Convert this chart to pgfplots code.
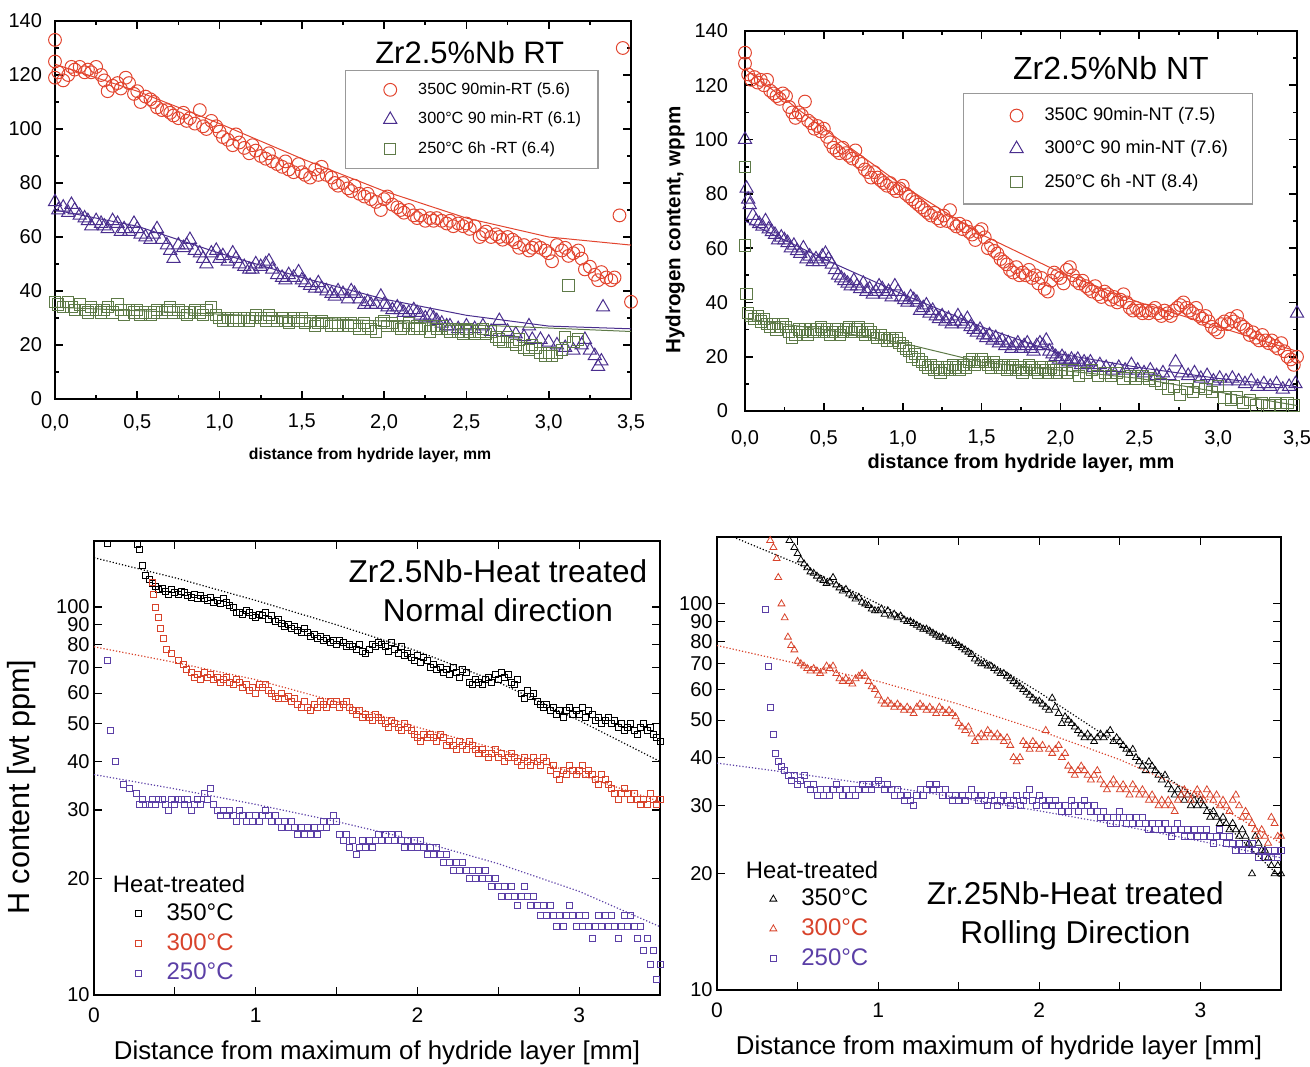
\documentclass[border=0pt]{standalone}
\usepackage{fontspec}
\setmainfont{Liberation Sans}
\usepackage{pgfplots}
\pgfplotsset{compat=1.18}
\definecolor{cRed}{HTML}{E2452F}
\definecolor{cPur}{HTML}{4A2E8E}
\definecolor{cGrn}{HTML}{5E7A48}
\definecolor{bRed}{HTML}{D8432B}
\definecolor{bPur}{HTML}{5B3FA6}

\pgfplotsset{
  every axis/.append style={/pgf/number format/assume math mode=true},
  topax/.style={
    scale only axis, anchor=south west, clip mode=individual,
    xmin=0, xmax=3.5, ymin=0, ymax=140,
    xtick={0,0.5,1,1.5,2,2.5,3,3.5}, minor x tick num=1,
    ytick={0,20,...,140}, minor y tick num=1,
    tick align=inside, major tick length=4pt, minor tick length=2.2pt,
    axis line style={line width=0.9pt},
    every tick/.style={black, line width=0.8pt},
    xticklabel style={yshift=-4pt, /pgf/number format/fixed, /pgf/number format/fixed zerofill,
      /pgf/number format/precision=1, /pgf/number format/use comma},
    yticklabel style={xshift=-3pt},
    tick label style={font=\fontsize{10}{12}\selectfont},
    legend cell align=left,
    legend image code/.code={\path[draw=none, fill=none] (0pt,0pt) rectangle (28pt,0.1pt);
      \draw[##1] plot coordinates {(16pt,0pt)};},
    legend style={draw=gray!80, line width=0.6pt, fill=white, anchor=north west},
  },
  botax/.style={
    scale only axis, anchor=south west, clip mode=individual,
    xmin=0, xmax=3.5, ymin=10,
    xtick={0,1,2,3}, minor xtick={0.5,1.5,2.5,3.5},
    ytick={10,20,30,40,50,60,70,80,90,100},
    yticklabels={10,20,30,40,50,60,70,80,90,100},
    tick align=inside, major tick length=4pt, minor tick length=4pt,
    axis line style={line width=0.7pt},
    every tick/.style={black, line width=0.6pt},
    tick label style={font=\fontsize{10.5}{11}\selectfont},
    yticklabel style={font=\fontsize{10}{10}\selectfont, inner ysep=0pt, inner xsep=2pt},
    xticklabel style={yshift=-3pt},
    x label style={at={(axis description cs:0.5,0)}, anchor=center, yshift=-29pt,
      font=\fontsize{12.9}{14}\selectfont},
    legend cell align=left,
    legend image code/.code={\path[draw=none, fill=none] (0pt,0pt) rectangle (16pt,0.1pt);
      \draw[##1] plot coordinates {(4pt,0pt)};},
    legend style={draw=none, fill=none, anchor=north west, row sep=1pt, inner xsep=0pt,
      font=\fontsize{12}{14.5}\selectfont},
  },
  rmk/.style={only marks, mark=o, mark size=3.2pt, cRed, mark options={line width=0.5pt}},
  pmk/.style={only marks, mark=triangle, mark size=3.8pt, cPur, mark options={line width=0.5pt}},
  gmk/.style={only marks, mark=square, mark size=2.8pt, cGrn, mark options={line width=0.5pt}},
}

\begin{document}
\begin{tikzpicture}
\useasboundingbox (0,0) rectangle (655pt,533pt);

% ---------------- top left: RT ----------------
\begin{axis}[topax, at={(27.5pt,333.5pt)}, width=288pt, height=189pt,
  xlabel={distance from hydride layer, mm},
  x label style={at={(axis description cs:0.547,0)}, anchor=center, yshift=-28pt,
    font=\bfseries\fontsize{7.9}{9}\selectfont},
  legend style={at={(axis cs:1.76,121.9)}, font=\fontsize{8.1}{10}\selectfont,
    inner xsep=6.5pt, inner ysep=4pt, row sep=3.5pt},
]
\addplot[rmk] coordinates {
(0.00,133) (0.00,125) (0.00,119) (0.02,121) (0.05,118) (0.08,120) (0.10,123) (0.12,122)
(0.15,123) (0.18,121) (0.20,122) (0.22,121) (0.25,123) (0.28,120) (0.30,118) (0.32,114)
(0.35,116) (0.38,117) (0.40,115) (0.43,119) (0.45,117) (0.48,113) (0.50,114) (0.52,110)
(0.55,112) (0.58,111) (0.60,110) (0.62,108) (0.65,107) (0.68,107) (0.70,106) (0.72,105)
(0.75,104) (0.78,106) (0.80,103) (0.82,104) (0.85,102) (0.88,107) (0.90,101) (0.92,100)
(0.95,103) (0.98,101) (1.00,99) (1.02,97) (1.05,96) (1.08,94) (1.10,98) (1.12,95)
(1.15,93) (1.18,91) (1.20,94) (1.22,92) (1.25,90) (1.28,89) (1.30,91) (1.32,88)
(1.35,87) (1.38,86) (1.40,88) (1.42,85) (1.45,84) (1.48,87) (1.50,84) (1.52,83)
(1.55,82) (1.58,85) (1.60,83) (1.62,86) (1.65,83) (1.68,82) (1.70,80) (1.72,79)
(1.75,80) (1.78,78) (1.80,77) (1.82,79) (1.85,76) (1.88,75) (1.90,76) (1.92,74)
(1.95,73) (1.98,70) (2.00,74) (2.02,75) (2.05,72) (2.08,71) (2.10,70) (2.12,69)
(2.15,70) (2.18,68) (2.20,67) (2.22,68) (2.25,66) (2.28,67) (2.30,66) (2.32,67)
(2.35,66) (2.38,65) (2.40,66) (2.42,64) (2.45,65) (2.48,64) (2.50,65) (2.52,63)
(2.55,64) (2.58,60) (2.60,61) (2.62,62) (2.65,60) (2.68,61) (2.70,60) (2.72,59)
(2.75,60) (2.78,59) (2.80,58) (2.82,56) (2.85,57) (2.88,55) (2.90,56) (2.92,57)
(2.95,56) (2.98,55) (3.00,54) (3.02,51) (3.05,57) (3.08,55) (3.10,56) (3.12,53)
(3.15,54) (3.18,55) (3.20,52) (3.22,48) (3.25,49) (3.28,46) (3.30,44) (3.32,47)
(3.35,45) (3.38,44) (3.40,45) (3.43,68) (3.45,130) (3.50,36)};
\addlegendentry{350C 90min-RT (5.6)}
\addplot[pmk] coordinates {
(0.00,73) (0.02,70) (0.05,71) (0.08,69) (0.10,72) (0.12,70) (0.15,68) (0.18,67)
(0.20,66) (0.22,64) (0.25,66) (0.28,65) (0.30,64) (0.32,63) (0.35,66) (0.38,65)
(0.40,62) (0.42,63) (0.45,62) (0.48,65) (0.50,63) (0.52,61) (0.55,60) (0.58,59)
(0.60,61) (0.62,63) (0.65,59) (0.68,57) (0.70,55) (0.72,52) (0.75,57) (0.78,56)
(0.80,57) (0.82,59) (0.85,55) (0.88,54) (0.90,52) (0.92,50) (0.95,54) (0.98,55)
(1.00,52) (1.02,53) (1.05,51) (1.08,54) (1.10,52) (1.12,50) (1.15,49) (1.18,48)
(1.20,48) (1.22,50) (1.25,49) (1.28,50) (1.30,51) (1.32,48) (1.35,46) (1.38,45)
(1.40,44) (1.42,46) (1.45,45) (1.48,47) (1.50,44) (1.52,43) (1.55,42) (1.58,41)
(1.60,43) (1.62,41) (1.65,40) (1.68,39) (1.70,38) (1.72,40) (1.75,39) (1.78,37)
(1.80,40) (1.82,39) (1.85,37) (1.88,35) (1.90,36) (1.92,35) (1.95,35) (1.98,38)
(2.00,35) (2.02,34) (2.05,33) (2.08,34) (2.10,33) (2.12,32) (2.15,32) (2.18,33)
(2.20,32) (2.22,31) (2.25,30) (2.28,31) (2.30,30) (2.32,29) (2.35,28) (2.38,27)
(2.40,27) (2.45,26) (2.50,27) (2.55,26) (2.60,27) (2.65,25) (2.70,29) (2.75,25)
(2.80,24) (2.85,23) (2.88,27) (2.90,22) (2.95,22) (3.00,21) (3.05,20) (3.10,19)
(3.15,18) (3.20,20) (3.22,22) (3.25,18) (3.28,16) (3.30,12) (3.32,14) (3.33,34)};
\addlegendentry{300°C 90 min-RT (6.1)}
\addplot[gmk] coordinates {
(0.00,36) (0.02,35) (0.05,34) (0.08,36) (0.10,34) (0.12,33) (0.15,35) (0.18,33)
(0.20,32) (0.22,34) (0.25,33) (0.28,32) (0.30,33) (0.32,34) (0.35,32) (0.38,35)
(0.40,33) (0.42,31) (0.45,33) (0.48,32) (0.50,33) (0.52,31) (0.55,32) (0.58,31)
(0.60,32) (0.62,33) (0.65,32) (0.68,33) (0.70,34) (0.72,32) (0.75,33) (0.78,32)
(0.80,31) (0.82,32) (0.85,33) (0.88,32) (0.90,31) (0.92,33) (0.95,34) (0.98,31)
(1.00,30) (1.02,29) (1.05,30) (1.08,29) (1.10,30) (1.12,29) (1.15,30) (1.18,29)
(1.20,30) (1.22,31) (1.25,30) (1.28,29) (1.30,31) (1.32,30) (1.35,29) (1.38,30)
(1.40,29) (1.42,28) (1.45,30) (1.48,29) (1.50,30) (1.52,28) (1.55,29) (1.58,27)
(1.60,28) (1.62,29) (1.65,28) (1.68,27) (1.70,28) (1.72,27) (1.75,28) (1.78,27)
(1.80,28) (1.82,27) (1.85,26) (1.88,28) (1.90,27) (1.92,26) (1.95,25) (1.98,28)
(2.00,29) (2.02,27) (2.05,28) (2.08,27) (2.10,26) (2.12,27) (2.15,28) (2.18,26)
(2.20,27) (2.22,26) (2.25,27) (2.28,25) (2.30,27) (2.32,26) (2.35,27) (2.38,26)
(2.40,25) (2.42,26) (2.45,25) (2.48,24) (2.50,26) (2.52,25) (2.55,24) (2.58,25)
(2.60,26) (2.62,24) (2.65,25) (2.68,23) (2.70,22) (2.72,21) (2.75,23) (2.78,21)
(2.80,20) (2.82,22) (2.85,19) (2.88,18) (2.90,20) (2.92,19) (2.95,17) (2.98,16)
(3.00,17) (3.02,16) (3.05,17) (3.08,18) (3.10,23) (3.12,42) (3.15,21) (3.18,22)};
\addlegendentry{250°C 6h -RT (6.4)}
\addplot[cRed, line width=0.5pt, forget plot] coordinates {
(0,124) (0.5,114) (1,102) (1.5,89) (2,77) (2.5,67) (3,60) (3.5,57)};
\addplot[cPur, line width=0.5pt, forget plot] coordinates {
(0,70) (0.5,64) (1,54) (1.5,45) (2,37) (2.5,31) (3,27) (3.5,26)};
\addplot[cGrn, line width=0.5pt, forget plot] coordinates {(0,34) (3.5,25)};
\node[font=\fontsize{15.5}{17}\selectfont] at (axis cs:2.52,128.5) {Zr2.5\%Nb RT};
\end{axis}

% ---------------- top right: NT ----------------
\begin{axis}[topax, at={(372.5pt,327.5pt)}, width=276pt, height=190pt,
  xlabel={distance from hydride layer, mm},
  ylabel={Hydrogen content, wppm},
  xticklabel style={yshift=-2pt},
  x label style={at={(axis description cs:0.5,0)}, anchor=center, yshift=-26pt,
    font=\bfseries\fontsize{10}{11}\selectfont},
  y label style={at={(axis description cs:0,0.476)}, anchor=center, yshift=35pt,
    font=\bfseries\fontsize{10.3}{11}\selectfont},
  yticklabel style={xshift=-2pt},
  legend style={at={(axis cs:1.382,117.2)}, font=\fontsize{9.1}{11}\selectfont,
    inner xsep=10.5pt, inner ysep=5pt, row sep=4.5pt},
]
\addplot[rmk] coordinates {
(0.00,132) (0.00,128) (0.02,124) (0.04,122) (0.06,123) (0.08,121) (0.10,122) (0.12,120)
(0.14,122) (0.16,118) (0.18,117) (0.20,116) (0.22,115) (0.24,117) (0.26,116) (0.28,112)
(0.30,110) (0.32,108) (0.34,110) (0.36,109) (0.38,114) (0.40,107) (0.42,106) (0.44,104)
(0.46,105) (0.48,103) (0.50,104) (0.52,101) (0.54,99) (0.56,97) (0.58,96) (0.60,95)
(0.62,97) (0.64,95) (0.66,94) (0.68,93) (0.70,96) (0.72,92) (0.74,91) (0.76,89)
(0.78,88) (0.80,86) (0.82,88) (0.84,86) (0.86,85) (0.88,84) (0.90,83) (0.92,84)
(0.94,82) (0.96,81) (0.98,82) (1.00,83) (1.02,80) (1.04,79) (1.06,78) (1.08,77)
(1.10,76) (1.12,75) (1.14,74) (1.16,73) (1.18,72) (1.20,73) (1.22,71) (1.24,70)
(1.26,72) (1.28,70) (1.30,74) (1.32,69) (1.34,68) (1.36,69) (1.38,67) (1.40,68)
(1.42,66) (1.44,65) (1.46,63) (1.48,66) (1.50,67) (1.52,64) (1.54,60) (1.56,61)
(1.58,59) (1.60,58) (1.62,56) (1.64,55) (1.66,54) (1.68,52) (1.70,51) (1.72,53)
(1.74,50) (1.76,51) (1.78,50) (1.80,52) (1.82,49) (1.84,50) (1.86,47) (1.88,49)
(1.90,45) (1.92,44) (1.94,48) (1.96,51) (1.98,50) (2.00,49) (2.02,47) (2.04,52)
(2.06,53) (2.08,50) (2.10,48) (2.12,47) (2.14,48) (2.16,46) (2.18,45) (2.20,44)
(2.22,46) (2.24,43) (2.26,42) (2.28,44) (2.30,43) (2.32,41) (2.34,42) (2.36,40)
(2.38,41) (2.40,43) (2.42,40) (2.44,38) (2.46,37) (2.48,38) (2.50,37) (2.52,36)
(2.54,37) (2.56,36) (2.58,37) (2.60,38) (2.62,36) (2.64,35) (2.66,37) (2.68,36)
(2.70,35) (2.72,37) (2.74,38) (2.76,39) (2.78,40) (2.80,38) (2.82,37) (2.84,36)
(2.86,38) (2.88,35) (2.90,34) (2.92,35) (2.94,33) (2.96,31) (2.98,30) (3.00,29)
(3.02,32) (3.04,33) (3.06,32) (3.08,34) (3.10,33) (3.12,35) (3.14,32) (3.16,31)
(3.18,30) (3.20,28) (3.22,29) (3.24,27) (3.26,26) (3.28,28) (3.30,26) (3.32,25)
(3.34,26) (3.36,24) (3.38,23) (3.40,25) (3.42,22) (3.44,20) (3.46,19) (3.48,17) (3.50,20)};
\addlegendentry{350C 90min-NT (7.5)}
\addplot[pmk] coordinates {
(0.00,100) (0.01,82) (0.02,78) (0.03,76) (0.05,72) (0.07,70) (0.09,69) (0.11,68)
(0.13,70) (0.15,67) (0.17,66) (0.19,65) (0.21,63) (0.23,64) (0.25,63) (0.27,62)
(0.29,60) (0.31,61) (0.33,59) (0.35,58) (0.37,60) (0.39,56) (0.41,57) (0.43,55)
(0.45,56) (0.47,55) (0.49,57) (0.51,58) (0.53,56) (0.55,54) (0.57,52) (0.59,50)
(0.61,49) (0.63,48) (0.65,47) (0.67,46) (0.69,48) (0.71,46) (0.73,45) (0.75,47)
(0.77,44) (0.79,45) (0.81,43) (0.83,44) (0.85,46) (0.87,45) (0.89,43) (0.91,44)
(0.93,42) (0.95,46) (0.97,44) (0.99,42) (1.01,41) (1.03,40) (1.05,42) (1.07,41)
(1.09,40) (1.11,37) (1.13,38) (1.15,39) (1.17,36) (1.19,37) (1.21,35) (1.23,34)
(1.25,35) (1.27,33) (1.29,34) (1.31,32) (1.33,33) (1.35,35) (1.37,33) (1.39,32)
(1.41,34) (1.43,31) (1.45,30) (1.47,29) (1.49,30) (1.51,28) (1.53,27) (1.55,28)
(1.57,26) (1.59,27) (1.61,25) (1.63,26) (1.65,24) (1.67,25) (1.69,23) (1.71,24)
(1.73,25) (1.75,23) (1.77,24) (1.79,25) (1.81,23) (1.83,22) (1.85,24) (1.87,25)
(1.89,24) (1.91,26) (1.93,22) (1.95,21) (1.97,20) (1.99,19) (2.01,20) (2.03,19)
(2.05,18) (2.07,19) (2.09,18) (2.11,19) (2.13,17) (2.15,18) (2.17,17) (2.19,18)
(2.21,16) (2.25,17) (2.29,16) (2.33,15) (2.37,16) (2.41,15) (2.45,17) (2.49,15)
(2.53,14) (2.57,15) (2.61,13) (2.65,14) (2.69,13) (2.73,18) (2.77,14) (2.81,13)
(2.85,14) (2.89,12) (2.93,13) (2.97,11) (3.01,12) (3.05,11) (3.09,12) (3.13,11)
(3.17,10) (3.21,11) (3.25,9) (3.29,10) (3.33,9) (3.37,10) (3.41,8) (3.45,9)
(3.49,10) (3.50,36)};
\addlegendentry{300°C 90 min-NT (7.6)}
\addplot[gmk] coordinates {
(0.00,90) (0.00,61) (0.01,43) (0.02,36) (0.04,35) (0.06,34) (0.08,35) (0.10,33)
(0.12,34) (0.14,32) (0.16,31) (0.18,32) (0.20,30) (0.22,31) (0.24,32) (0.26,31)
(0.28,29) (0.30,27) (0.32,28) (0.34,30) (0.36,29) (0.38,30) (0.40,28) (0.42,30)
(0.44,29) (0.46,30) (0.48,31) (0.50,29) (0.52,30) (0.54,28) (0.56,29) (0.58,30)
(0.60,28) (0.62,29) (0.64,30) (0.66,31) (0.68,29) (0.70,30) (0.72,31) (0.74,29)
(0.76,28) (0.78,30) (0.80,29) (0.82,28) (0.84,27) (0.86,28) (0.88,27) (0.90,26)
(0.92,27) (0.94,26) (0.96,27) (0.98,25) (1.00,24) (1.02,23) (1.04,22) (1.06,20)
(1.08,21) (1.10,19) (1.12,18) (1.14,17) (1.16,16) (1.18,17) (1.20,15) (1.22,16)
(1.24,14) (1.26,15) (1.28,16) (1.30,15) (1.32,17) (1.34,16) (1.36,15) (1.38,17)
(1.40,16) (1.42,18) (1.44,19) (1.46,17) (1.48,18) (1.50,19) (1.52,18) (1.54,17)
(1.56,16) (1.58,18) (1.60,17) (1.62,16) (1.64,17) (1.66,15) (1.68,16) (1.70,17)
(1.72,15) (1.74,16) (1.76,14) (1.78,15) (1.80,17) (1.82,16) (1.84,15) (1.86,14)
(1.88,16) (1.90,15) (1.92,14) (1.94,16) (1.96,15) (1.98,14) (2.00,15) (2.04,14)
(2.08,15) (2.12,13) (2.16,14) (2.20,15) (2.24,13) (2.28,14) (2.32,13) (2.36,14)
(2.40,12) (2.44,13) (2.48,12) (2.52,13) (2.56,12) (2.60,11) (2.64,10) (2.68,8)
(2.72,9) (2.76,6) (2.80,8) (2.84,7) (2.88,9) (2.92,8) (2.96,7) (3.00,9)
(3.04,5) (3.08,4) (3.12,5) (3.16,3) (3.20,4) (3.24,2) (3.28,3) (3.32,2)
(3.36,3) (3.40,2) (3.44,3) (3.48,2)};
\addlegendentry{250°C 6h -NT (8.4)}
\addplot[cRed, line width=0.5pt, forget plot] coordinates {
(0,126) (0.5,104) (1,83) (1.5,65) (2,51) (2.5,40) (3,31) (3.5,22)};
\addplot[cPur, line width=0.5pt, forget plot] coordinates {
(0,70) (0.5,56) (1,43) (1.5,31) (2,21) (2.5,16) (3,12) (3.5,9)};
\addplot[cGrn, line width=0.5pt, forget plot] coordinates {
(0,34) (0.5,30) (1,25) (1.5,18) (2,15) (2.5,12) (3,7) (3.5,2)};
\node[font=\fontsize{16}{18}\selectfont] at (axis cs:2.32,126.4) {Zr2.5\%Nb NT};
\end{axis}

% ---------------- bottom left: normal direction ----------------
\begin{semilogyaxis}[botax, at={(47pt,35.5pt)}, width=283pt, height=227pt, ymax=148,
  xlabel={Distance from maximum of hydride layer [mm]},
  ylabel={H content [wt ppm]},
  y label style={at={(axis description cs:0,0.458)}, anchor=center, yshift=36pt,
    font=\fontsize{15.3}{17}\selectfont},
  legend style={at={(rel axis cs:0.064,0.22)}},
]
\addplot[only marks, mark=square, mark size=1.5pt, black, mark options={line width=0.4pt}] coordinates {
(0.08,146) (0.27,145) (0.28,141) (0.30,128) (0.32,121) (0.34,118) (0.36,115) (0.38,113)
(0.40,111) (0.42,112) (0.44,110) (0.46,108) (0.48,111) (0.50,109) (0.52,108) (0.54,110)
(0.56,109) (0.58,107) (0.60,106) (0.62,108) (0.64,105) (0.66,107) (0.68,105) (0.70,104)
(0.72,106) (0.74,103) (0.76,104) (0.78,102) (0.80,105) (0.82,103) (0.84,101) (0.86,100)
(0.88,97) (0.90,97) (0.92,96) (0.94,98) (0.96,97) (0.98,95) (1.00,94) (1.02,96)
(1.04,95) (1.06,97) (1.08,93) (1.10,95) (1.12,92) (1.14,93) (1.16,91) (1.18,89)
(1.20,90) (1.22,88) (1.24,89) (1.26,87) (1.28,86) (1.30,88) (1.32,86) (1.34,84)
(1.36,85) (1.38,83) (1.40,84) (1.42,82) (1.44,83) (1.46,81) (1.48,82) (1.50,80)
(1.52,82) (1.54,81) (1.56,79) (1.58,80) (1.60,79) (1.62,78) (1.64,80) (1.66,77)
(1.68,76) (1.70,78) (1.72,80) (1.74,79) (1.76,81) (1.78,80) (1.80,79) (1.82,77)
(1.84,81) (1.86,78) (1.88,76) (1.90,79) (1.92,75) (1.94,76) (1.96,74) (1.98,73)
(2.00,75) (2.02,72) (2.04,74) (2.06,73) (2.08,70) (2.10,71) (2.12,69) (2.14,70)
(2.16,68) (2.18,69) (2.20,67) (2.22,70) (2.24,68) (2.26,66) (2.28,69) (2.30,68)
(2.32,64) (2.34,63) (2.36,65) (2.38,64) (2.40,63) (2.42,65) (2.44,66) (2.46,64)
(2.48,67) (2.50,65) (2.52,68) (2.54,66) (2.56,67) (2.58,64) (2.60,63) (2.62,65)
(2.64,60) (2.66,58) (2.68,61) (2.70,59) (2.72,60) (2.74,57) (2.76,56) (2.78,55)
(2.80,56) (2.82,54) (2.84,55) (2.86,53) (2.88,54) (2.90,52) (2.92,54) (2.94,55)
(2.96,53) (2.98,54) (3.00,53) (3.02,55) (3.04,52) (3.06,54) (3.08,53) (3.10,51)
(3.12,52) (3.14,50) (3.16,51) (3.18,52) (3.20,50) (3.22,51) (3.24,49) (3.26,50)
(3.28,48) (3.30,49) (3.32,50) (3.34,48) (3.36,47) (3.38,49) (3.40,50) (3.42,48)
(3.44,49) (3.46,47) (3.48,46) (3.50,45)};
\addlegendentry{350°C}
\addplot[only marks, mark=square, mark size=1.5pt, bRed, mark options={line width=0.4pt}] coordinates {
(0.36,116) (0.37,108) (0.38,100) (0.40,94) (0.41,88) (0.43,83) (0.45,78) (0.48,76)
(0.52,73) (0.55,71) (0.57,69) (0.60,68) (0.62,66) (0.64,67) (0.66,65) (0.68,68)
(0.70,66) (0.72,67) (0.74,65) (0.76,66) (0.78,64) (0.80,65) (0.82,66) (0.84,64)
(0.86,63) (0.88,65) (0.90,64) (0.92,62) (0.94,63) (0.96,61) (0.98,62) (1.00,60)
(1.02,63) (1.04,62) (1.06,63) (1.08,61) (1.10,60) (1.12,59) (1.14,58) (1.16,60)
(1.18,58) (1.20,59) (1.22,57) (1.24,58) (1.26,56) (1.28,55) (1.30,57) (1.32,55)
(1.34,54) (1.36,56) (1.38,55) (1.40,57) (1.42,56) (1.44,55) (1.46,57) (1.48,56)
(1.50,57) (1.52,55) (1.54,56) (1.56,57) (1.58,55) (1.60,54) (1.62,53) (1.64,54)
(1.66,52) (1.68,53) (1.70,52) (1.72,51) (1.74,53) (1.76,52) (1.78,51) (1.80,50)
(1.82,49) (1.84,51) (1.86,50) (1.88,49) (1.90,48) (1.92,50) (1.94,49) (1.96,48)
(1.98,47) (2.00,46) (2.02,45) (2.04,47) (2.06,46) (2.08,47) (2.10,46) (2.12,45)
(2.14,47) (2.16,46) (2.18,44) (2.20,45) (2.22,44) (2.24,43) (2.26,45) (2.28,44)
(2.30,43) (2.32,45) (2.34,44) (2.36,43) (2.38,42) (2.40,43) (2.42,42) (2.44,41)
(2.46,42) (2.48,43) (2.50,41) (2.52,42) (2.54,40) (2.56,41) (2.58,42) (2.60,41)
(2.62,40) (2.64,39) (2.66,41) (2.68,40) (2.70,39) (2.72,41) (2.74,40) (2.76,39)
(2.78,41) (2.80,40) (2.82,38) (2.84,39) (2.86,37) (2.88,36) (2.90,38) (2.92,37)
(2.94,39) (2.96,38) (2.98,37) (3.00,38) (3.02,39) (3.04,37) (3.06,38) (3.08,37)
(3.10,36) (3.12,35) (3.14,37) (3.16,36) (3.18,35) (3.20,34) (3.22,33) (3.24,32)
(3.26,33) (3.28,34) (3.30,33) (3.32,32) (3.34,33) (3.36,32) (3.38,31) (3.40,32)
(3.42,31) (3.44,33) (3.46,32) (3.48,31) (3.50,32)};
\addlegendentry{\textcolor{bRed}{300°C}}
\addplot[only marks, mark=square, mark size=1.5pt, bPur, mark options={line width=0.4pt}] coordinates {
(0.08,73) (0.10,48) (0.13,40) (0.18,35) (0.22,34) (0.26,33) (0.28,31) (0.30,32)
(0.32,31) (0.34,31) (0.36,32) (0.38,31) (0.40,32) (0.42,32) (0.44,31) (0.46,30)
(0.48,32) (0.50,31) (0.52,32) (0.54,32) (0.56,31) (0.58,32) (0.60,30) (0.62,31)
(0.64,32) (0.66,31) (0.68,33) (0.70,32) (0.72,34) (0.74,31) (0.76,30) (0.78,29)
(0.80,30) (0.82,29) (0.84,30) (0.86,29) (0.88,28) (0.90,30) (0.92,29) (0.94,28)
(0.96,29) (0.98,28) (1.00,29) (1.02,28) (1.04,29) (1.06,30) (1.08,29) (1.10,28)
(1.12,29) (1.14,28) (1.16,27) (1.18,28) (1.20,27) (1.22,28) (1.24,27) (1.26,26)
(1.28,27) (1.30,26) (1.32,27) (1.34,26) (1.36,27) (1.38,26) (1.40,27) (1.42,28)
(1.44,27) (1.46,28) (1.48,29) (1.50,28) (1.52,26) (1.54,25) (1.56,26) (1.58,24)
(1.60,25) (1.62,23) (1.64,24) (1.66,25) (1.68,24) (1.70,25) (1.72,24) (1.74,25)
(1.76,26) (1.78,25) (1.80,26) (1.82,25) (1.84,26) (1.86,25) (1.88,26) (1.90,25)
(1.92,24) (1.94,25) (1.96,24) (1.98,25) (2.00,24) (2.02,25) (2.04,24) (2.06,23)
(2.08,24) (2.10,23) (2.12,24) (2.14,23) (2.16,22) (2.18,23) (2.20,22) (2.22,21)
(2.24,22) (2.26,21) (2.28,22) (2.30,21) (2.32,20) (2.34,21) (2.36,20) (2.38,21)
(2.40,20) (2.42,21) (2.44,20) (2.46,19) (2.48,20) (2.50,19) (2.52,18) (2.54,19)
(2.56,18) (2.58,19) (2.60,18) (2.62,17) (2.64,18) (2.66,19) (2.68,18) (2.70,17)
(2.72,18) (2.74,17) (2.76,16) (2.78,17) (2.80,16) (2.82,17) (2.84,16) (2.86,15)
(2.88,16) (2.90,15) (2.92,16) (2.94,17) (2.96,16) (2.98,15) (3.00,16) (3.02,15)
(3.04,16) (3.06,15) (3.08,14) (3.10,15) (3.12,16) (3.14,15) (3.16,16) (3.18,15)
(3.20,16) (3.22,15) (3.24,14) (3.26,15) (3.28,16) (3.30,15) (3.32,16) (3.34,15)
(3.36,14) (3.38,15) (3.40,13) (3.42,14) (3.44,12) (3.46,13) (3.48,11) (3.50,12)};
\addlegendentry{\textcolor{bPur}{250°C}}
\addplot[black, densely dotted, line width=0.6pt, forget plot] coordinates {
(0,134) (0.5,119) (1,104) (1.5,90) (2,77) (2.5,64) (3,51) (3.5,40)};
\addplot[bRed, densely dotted, line width=0.6pt, forget plot] coordinates {
(0,79) (0.5,72) (1,65) (1.5,57) (2,49) (2.5,43) (3,37) (3.5,31.5)};
\addplot[bPur, densely dotted, line width=0.6pt, forget plot] coordinates {
(0,37) (0.5,34) (1,31) (1.5,28) (2,25) (2.5,21.8) (3,18.5) (3.5,15)};
\node[font=\fontsize{15.8}{19.5}\selectfont, align=center] at (axis cs:2.498,110)
  {Zr2.5Nb-Heat treated\\Normal direction};
\node[font=\fontsize{11.9}{14}\selectfont] at (axis cs:0.526,19.3) {Heat-treated};
\end{semilogyaxis}

% ---------------- bottom right: rolling direction ----------------
\begin{semilogyaxis}[botax, at={(358.5pt,38pt)}, width=282pt, height=226.5pt, ymax=149,
  xlabel={Distance from maximum of hydride layer [mm]},
  legend style={at={(rel axis cs:0.085,0.241)}},
]
\addplot[only marks, mark=triangle, mark size=2pt, black, mark options={line width=0.4pt}] coordinates {
(0.45,146) (0.48,140) (0.50,135) (0.52,130) (0.54,127) (0.56,124) (0.58,121) (0.60,120)
(0.62,118) (0.64,116) (0.66,115) (0.68,113) (0.70,114) (0.72,117) (0.74,112) (0.76,110)
(0.78,108) (0.80,109) (0.82,106) (0.84,105) (0.86,103) (0.88,104) (0.90,101) (0.92,100)
(0.94,99) (0.96,97) (0.98,96) (1.00,96) (1.02,97) (1.04,94) (1.06,96) (1.08,93)
(1.10,94) (1.12,92) (1.14,93) (1.16,91) (1.18,90) (1.20,90) (1.22,89) (1.24,88)
(1.26,87) (1.28,86) (1.30,86) (1.32,85) (1.34,84) (1.36,83) (1.38,82) (1.40,82)
(1.42,81) (1.44,80) (1.46,80) (1.48,79) (1.50,78) (1.52,77) (1.54,76) (1.56,75)
(1.58,74) (1.60,72) (1.62,71) (1.64,70) (1.66,70) (1.68,69) (1.70,69) (1.72,68)
(1.74,67) (1.76,66) (1.78,66) (1.80,65) (1.82,64) (1.84,63) (1.86,62) (1.88,61)
(1.90,60) (1.92,59) (1.94,58) (1.96,57) (1.98,56) (2.00,56) (2.02,55) (2.04,54)
(2.06,53) (2.08,57) (2.10,54) (2.12,52) (2.14,49) (2.16,51) (2.18,50) (2.20,49)
(2.22,48) (2.24,47) (2.26,46) (2.28,45) (2.30,46) (2.32,45) (2.34,44) (2.36,45)
(2.38,46) (2.40,45) (2.42,46) (2.44,47) (2.46,44) (2.48,45) (2.50,44) (2.52,43)
(2.54,42) (2.56,41) (2.58,42) (2.60,40) (2.62,39) (2.64,38) (2.66,37) (2.68,39)
(2.70,38) (2.72,37) (2.74,36) (2.76,35) (2.78,36) (2.80,34) (2.82,33) (2.84,32)
(2.86,33) (2.88,32) (2.90,31) (2.92,32) (2.94,30) (2.96,31) (2.98,30) (3.00,31)
(3.02,30) (3.04,29) (3.06,28) (3.08,29) (3.10,28) (3.12,27) (3.14,28) (3.16,27)
(3.18,26) (3.20,27) (3.22,26) (3.24,25) (3.26,26) (3.28,25) (3.30,24) (3.32,20)
(3.34,25) (3.36,24) (3.38,23) (3.40,23) (3.42,22) (3.44,21) (3.46,20) (3.48,21) (3.50,20)};
\addlegendentry{350°C}
\addplot[only marks, mark=triangle, mark size=2pt, bRed, mark options={line width=0.4pt}] coordinates {
(0.33,146) (0.35,140) (0.37,131) (0.38,117) (0.40,100) (0.42,92) (0.44,82) (0.46,78)
(0.48,76) (0.50,71) (0.52,70) (0.54,69) (0.56,68) (0.58,67) (0.60,68) (0.62,67)
(0.64,66) (0.66,67) (0.68,69) (0.70,68) (0.72,69) (0.74,66) (0.76,64) (0.78,63)
(0.80,64) (0.82,63) (0.84,62) (0.86,64) (0.88,65) (0.90,66) (0.92,65) (0.94,63)
(0.96,61) (0.98,60) (1.00,58) (1.02,56) (1.04,55) (1.06,56) (1.08,55) (1.10,54)
(1.12,55) (1.14,54) (1.16,53) (1.18,54) (1.20,53) (1.22,52) (1.24,54) (1.26,55)
(1.28,54) (1.30,53) (1.32,54) (1.34,53) (1.36,52) (1.38,54) (1.40,53) (1.42,52)
(1.44,53) (1.46,52) (1.48,51) (1.50,49) (1.52,48) (1.54,47) (1.56,48) (1.58,46)
(1.60,44) (1.62,45) (1.64,46) (1.66,45) (1.68,47) (1.70,46) (1.72,45) (1.74,46)
(1.76,45) (1.78,44) (1.80,45) (1.82,43) (1.84,40) (1.86,39) (1.88,40) (1.90,44)
(1.92,43) (1.94,42) (1.96,44) (1.98,43) (2.00,42) (2.02,43) (2.04,47) (2.06,42)
(2.08,41) (2.10,42) (2.12,43) (2.14,40) (2.16,41) (2.18,38) (2.20,37) (2.22,36)
(2.24,37) (2.26,38) (2.28,37) (2.30,36) (2.32,35) (2.34,36) (2.36,37) (2.38,35)
(2.40,34) (2.42,33) (2.44,34) (2.46,35) (2.48,34) (2.50,33) (2.52,34) (2.54,33)
(2.56,32) (2.58,34) (2.60,33) (2.62,32) (2.64,33) (2.66,32) (2.68,31) (2.70,32)
(2.72,31) (2.74,30) (2.76,31) (2.78,30) (2.80,31) (2.82,30) (2.84,29) (2.86,31)
(2.88,32) (2.90,33) (2.92,32) (2.94,31) (2.96,32) (2.98,33) (3.00,32) (3.02,31)
(3.04,33) (3.06,32) (3.08,31) (3.10,32) (3.12,30) (3.14,31) (3.16,30) (3.18,29)
(3.20,31) (3.22,32) (3.24,30) (3.26,28) (3.28,29) (3.30,28) (3.32,27) (3.34,26)
(3.36,25) (3.38,26) (3.40,25) (3.42,24) (3.44,28) (3.46,27) (3.48,25) (3.50,25)};
\addlegendentry{\textcolor{bRed}{300°C}}
\addplot[only marks, mark=square, mark size=1.5pt, bPur, mark options={line width=0.4pt}] coordinates {
(0.30,97) (0.32,69) (0.33,54) (0.35,46) (0.36,41) (0.38,39) (0.40,38) (0.42,37)
(0.44,36) (0.46,35) (0.48,36) (0.50,34) (0.52,35) (0.54,36) (0.56,34) (0.58,33)
(0.60,34) (0.62,32) (0.64,33) (0.66,32) (0.68,33) (0.70,32) (0.72,33) (0.74,34)
(0.76,33) (0.78,32) (0.80,33) (0.82,32) (0.84,33) (0.86,32) (0.88,33) (0.90,34)
(0.92,33) (0.94,34) (0.96,33) (0.98,34) (1.00,35) (1.02,34) (1.04,33) (1.06,34)
(1.08,33) (1.10,32) (1.12,33) (1.14,32) (1.16,31) (1.18,32) (1.20,31) (1.22,30)
(1.24,32) (1.26,33) (1.28,32) (1.30,33) (1.32,34) (1.34,33) (1.36,34) (1.38,33)
(1.40,32) (1.42,33) (1.44,32) (1.46,31) (1.48,32) (1.50,31) (1.52,32) (1.54,31)
(1.56,32) (1.58,33) (1.60,32) (1.62,31) (1.64,32) (1.66,31) (1.68,30) (1.70,32)
(1.72,31) (1.74,30) (1.76,31) (1.78,32) (1.80,31) (1.82,30) (1.84,31) (1.86,32)
(1.88,30) (1.90,31) (1.92,32) (1.94,33) (1.96,31) (1.98,30) (2.00,32) (2.02,31)
(2.04,30) (2.06,31) (2.08,30) (2.10,31) (2.12,30) (2.14,29) (2.16,30) (2.18,29)
(2.20,31) (2.22,30) (2.24,29) (2.26,30) (2.28,31) (2.30,30) (2.32,29) (2.34,30)
(2.36,29) (2.38,28) (2.40,29) (2.42,28) (2.44,27) (2.46,28) (2.48,27) (2.50,29)
(2.52,28) (2.54,27) (2.56,28) (2.58,27) (2.60,28) (2.62,27) (2.64,28) (2.66,27)
(2.68,26) (2.70,27) (2.72,26) (2.74,27) (2.76,26) (2.78,27) (2.80,26) (2.82,25)
(2.84,26) (2.86,27) (2.88,26) (2.90,25) (2.92,26) (2.94,25) (2.96,26) (2.98,25)
(3.00,26) (3.02,25) (3.04,26) (3.06,25) (3.08,24) (3.10,25) (3.12,26) (3.14,25)
(3.16,24) (3.18,25) (3.20,24) (3.22,23) (3.24,24) (3.26,23) (3.28,24) (3.30,23)
(3.32,24) (3.34,23) (3.36,22) (3.38,23) (3.40,22) (3.42,23) (3.44,22) (3.46,23)
(3.48,22) (3.50,23)};
\addlegendentry{\textcolor{bPur}{250°C}}
\addplot[black, densely dotted, line width=0.6pt, forget plot] coordinates {
(0.1,149) (0.5,127) (1,100) (1.5,79) (2,59) (2.5,43) (3,31) (3.5,19.5)};
\addplot[bRed, densely dotted, line width=0.6pt, forget plot] coordinates {
(0,78) (0.5,70) (1,63) (1.5,55) (2,47) (2.5,39.5) (3,32) (3.5,24)};
\addplot[bPur, densely dotted, line width=0.6pt, forget plot] coordinates {
(0,38.7) (0.5,36.3) (1,33.9) (1.5,31.5) (2,29.1) (2.5,26.7) (3,24.3) (3.5,22)};
\node[font=\fontsize{15.8}{19.5}\selectfont, align=center] at (axis cs:2.224,15.6)
  {Zr.25Nb-Heat treated\\Rolling Direction};
\node[font=\fontsize{11.9}{14}\selectfont] at (axis cs:0.59,20.5) {Heat-treated};
\end{semilogyaxis}
\end{tikzpicture}
\end{document}
